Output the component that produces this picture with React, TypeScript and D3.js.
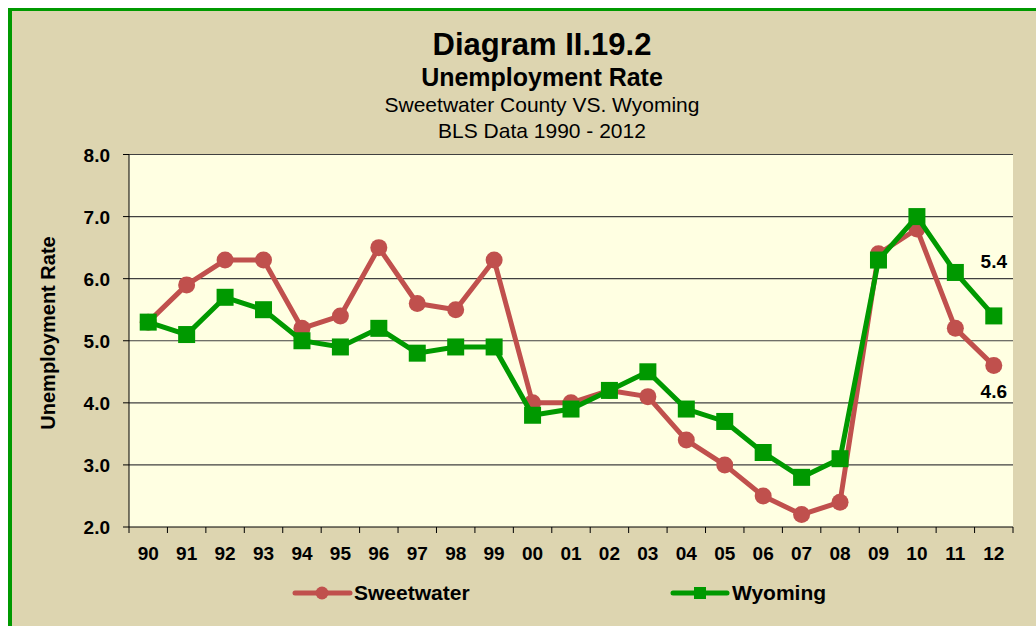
import React from "react";
import * as d3 from "d3";

const years = ["90","91","92","93","94","95","96","97","98","99","00","01","02","03","04","05","06","07","08","09","10","11","12"];
const sweetwater = [5.3,5.9,6.3,6.3,5.2,5.4,6.5,5.6,5.5,6.3,4.0,4.0,4.2,4.1,3.4,3.0,2.5,2.2,2.4,6.4,6.8,5.2,4.6];
const wyoming = [5.3,5.1,5.7,5.5,5.0,4.9,5.2,4.8,4.9,4.9,3.8,3.9,4.2,4.5,3.9,3.7,3.2,2.8,3.1,6.3,7.0,6.1,5.4];
const yTicks = [2,3,4,5,6,7,8];
const titleLines = ["Diagram II.19.2", "Unemployment Rate", "Sweetwater County VS. Wyoming", "BLS Data 1990 - 2012"];
const yAxisTitle = "Unemployment Rate";
const seriesNames = ["Sweetwater", "Wyoming"];

const W = 1036, H = 626;
const plot = { left: 129, right: 1013, top: 154.5, bottom: 527 };
const RED = "#C0504D";
const GREEN = "#009900";
const FONT = "'Liberation Sans', Arial, sans-serif";

export default function App() {
  const x = d3.scaleBand<string>().domain(years).range([plot.left, plot.right]);
  const y = d3.scaleLinear().domain([2, 8]).range([plot.bottom, plot.top]);
  const cx = (d: string) => (x(d) as number) + x.bandwidth() / 2;
  const line = d3.line<number>().x((_, i) => cx(years[i])).y((v) => y(v));
  const boundaries = years.map((d) => x(d) as number).concat([plot.right]);
  const last = years.length - 1;

  return (
    <svg width={W} height={H} style={{ position: "absolute", left: 0, top: 0, display: "block" }} fontFamily={FONT}>
      <rect x={0} y={0} width={W} height={H} fill="#ffffff" />
      <rect x={8} y={8} width={W} height={H} fill="#DDD5B0" />
      <line x1={10} y1={8} x2={10} y2={H} stroke={GREEN} strokeWidth={4} />
      <line x1={8} y1={9.5} x2={W} y2={9.5} stroke={GREEN} strokeWidth={3} />

      {/* titles */}
      <text x={542} y={55} textAnchor="middle" fontWeight="bold" fontSize={31}>{titleLines[0]}</text>
      <text x={542} y={86} textAnchor="middle" fontWeight="bold" fontSize={25}>{titleLines[1]}</text>
      <text x={542} y={112} textAnchor="middle" fontSize={21}>{titleLines[2]}</text>
      <text x={542} y={138} textAnchor="middle" fontSize={21}>{titleLines[3]}</text>

      {/* plot area */}
      <rect x={plot.left} y={plot.top} width={plot.right - plot.left} height={plot.bottom - plot.top} fill="#FFFFE2" />
      {yTicks.map((t) => (
        <g key={t}>
          {t > 2 && <line x1={plot.left} x2={plot.right} y1={y(t)} y2={y(t)} stroke="#404040" strokeWidth={1.2} />}
          <line x1={plot.left - 6} x2={plot.left} y1={y(t)} y2={y(t)} stroke="#000" strokeWidth={1} />
          <text x={110} y={y(t) + 7} textAnchor="end" fontWeight="bold" fontSize={19}>{t.toFixed(1)}</text>
        </g>
      ))}
      <line x1={plot.left} x2={plot.left} y1={plot.top} y2={plot.bottom} stroke="#000" strokeWidth={1} />
      <line x1={plot.left} x2={plot.right} y1={plot.bottom} y2={plot.bottom} stroke="#000" strokeWidth={1} />
      {boundaries.map((b, i) => (
        <line key={i} x1={b} x2={b} y1={plot.bottom} y2={plot.bottom + 6} stroke="#000" strokeWidth={1} />
      ))}
      {years.map((d) => (
        <text key={d} x={cx(d)} y={560} textAnchor="middle" fontWeight="bold" fontSize={19}>{d}</text>
      ))}
      <text transform={`translate(55,333) rotate(-90)`} textAnchor="middle" fontWeight="bold" fontSize={20}>{yAxisTitle}</text>

      {/* series */}
      <path d={line(sweetwater) || ""} fill="none" stroke={RED} strokeWidth={5} strokeLinejoin="round" />
      {sweetwater.map((v, i) => (
        <circle key={i} cx={cx(years[i])} cy={y(v)} r={8.5} fill={RED} />
      ))}
      <path d={line(wyoming) || ""} fill="none" stroke={GREEN} strokeWidth={5} strokeLinejoin="miter" />
      {wyoming.map((v, i) => (
        <rect key={i} x={cx(years[i]) - 8.5} y={y(v) - 8.5} width={17} height={17} fill={GREEN} />
      ))}

      {/* data labels */}
      <text x={cx(years[last])} y={y(wyoming[last]) - 48} textAnchor="middle" fontWeight="bold" fontSize={19}>{wyoming[last].toFixed(1)}</text>
      <text x={cx(years[last])} y={y(sweetwater[last]) + 32} textAnchor="middle" fontWeight="bold" fontSize={19}>{sweetwater[last].toFixed(1)}</text>

      {/* legend */}
      <line x1={295} x2={350} y1={593} y2={593} stroke={RED} strokeWidth={5} strokeLinecap="round" />
      <circle cx={322} cy={593} r={6.5} fill={RED} />
      <text x={354} y={600} fontWeight="bold" fontSize={21}>{seriesNames[0]}</text>
      <line x1={673} x2={727} y1={593} y2={593} stroke={GREEN} strokeWidth={5} strokeLinecap="round" />
      <rect x={694} y={587} width={12} height={12} fill={GREEN} />
      <text x={732} y={600} fontWeight="bold" fontSize={21}>{seriesNames[1]}</text>
    </svg>
  );
}
